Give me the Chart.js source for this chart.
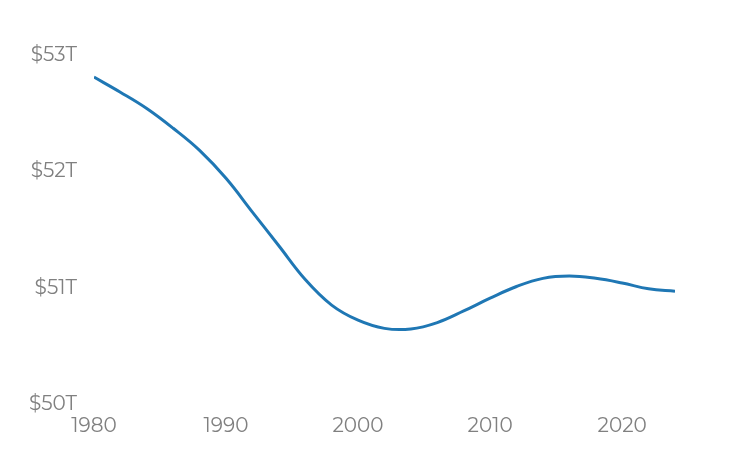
<!DOCTYPE html>
<html>
<head>
<meta charset="utf-8">
<script src="https://cdn.jsdelivr.net/npm/chart.js@4"></script>
<style>
  html, body { margin: 0; padding: 0; background: #fff; }
  #wrap { width: 750px; height: 450px; }
</style>
</head>
<body>
<div id="wrap"><canvas id="chart"></canvas></div>
<script>
var years = [1980, 1982, 1984, 1986, 1988, 1990, 1992, 1994, 1996, 1998, 2000, 2002,
             2004, 2006, 2008, 2010, 2012, 2014, 2016, 2018, 2020, 2022, 2024];
var values = [52.81, 52.68, 52.54, 52.37, 52.18, 51.94, 51.65, 51.36, 51.07, 50.85, 50.72, 50.65,
              50.645, 50.70, 50.80, 50.91, 51.01, 51.08, 51.10, 51.08, 51.04, 50.99, 50.97];
var yTicks = [50, 51, 52, 53];
var xTicks = [1980, 1990, 2000, 2010, 2020];

var points = [];
for (var i = 0; i < years.length; i++) {
  points.push({ x: years[i], y: values[i] });
}

var tickFont = { family: "Montserrat, 'Open Sans', sans-serif", size: 20 };

new Chart(document.getElementById('chart'), {
  type: 'line',
  data: {
    datasets: [{
      data: points,
      borderColor: '#1f77b4',
      borderWidth: 3,
      pointRadius: 0,
      fill: false,
      tension: 0.4
    }]
  },
  options: {
    responsive: true,
    maintainAspectRatio: false,
    animation: false,
    layout: { padding: { top: 55, right: 75, bottom: 10, left: 20 } },
    plugins: { legend: { display: false }, tooltip: { enabled: false } },
    scales: {
      x: {
        type: 'linear',
        min: 1980,
        max: 2024,
        grid: { display: false },
        border: { display: false },
        afterBuildTicks: function(axis) {
          axis.ticks = xTicks.map(function(v) { return { value: v }; });
        },
        ticks: {
          color: '#808080',
          font: tickFont,
          maxRotation: 0,
          padding: 2,
          callback: function(v) { return String(v); }
        }
      },
      y: {
        min: 50,
        max: 53,
        grid: { display: false },
        border: { display: false },
        afterBuildTicks: function(axis) {
          axis.ticks = yTicks.map(function(v) { return { value: v }; });
        },
        ticks: {
          color: '#808080',
          font: tickFont,
          padding: 9,
          callback: function(v) { return '$' + v + 'T'; }
        }
      }
    }
  }
});
</script>
</body>
</html>
